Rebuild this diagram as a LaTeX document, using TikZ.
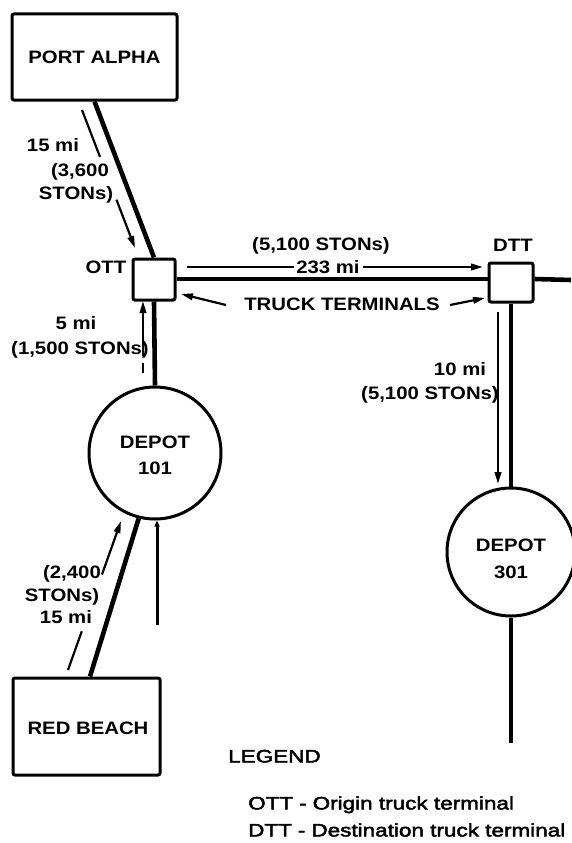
\documentclass[tikz,border=0pt]{standalone}
\usepackage{fontspec}
\setmainfont{Liberation Sans}[FakeStretch=1.13]
\newfontfamily\legfont{Liberation Sans}[FakeStretch=1.25, FakeBold=2.5]
\usetikzlibrary{arrows.meta,calc}
\begin{document}
\begin{tikzpicture}[x=1pt,y=-1pt,
  lab/.style={font=\fontsize{18}{20}\selectfont\bfseries, inner sep=0pt, text height=12.9pt, text depth=0pt},
  leg/.style={font=\fontsize{18}{20}\selectfont\legfont, inner sep=0pt, text height=12.9pt, text depth=0pt, anchor=west},
  box/.style={draw, line width=3pt, rounded corners=2pt, inner sep=0pt},
  depot/.style={draw, circle, line width=3pt, inner sep=0pt},
  road/.style={line width=4.6pt},
  flowline/.style={line width=2.2pt},
  flow/.style={line width=2.2pt, -{Triangle[length=12pt,width=6.5pt]}},
  ]
\useasboundingbox (0,0) rectangle (571,843);

% boxes and depots
\node[box, minimum width=165pt, minimum height=86pt] (port) at (94.5,57) {};
\node[lab] (portt) at (port.center) {PORT ALPHA};
\node[box, minimum width=42pt, minimum height=41pt] (ott) at (154,279.5) {};
\node[box, minimum width=44pt, minimum height=39pt] (dtt) at (511,282.5) {};
\node[depot, minimum size=132pt] (d101) at (155,453) {};
\node[depot, minimum size=128pt] (d301) at (511,552) {};
\node[box, minimum width=147pt, minimum height=97pt] (red) at (86.5,726.5) {};
\node[lab] (redt) at (88,728) {RED BEACH};

% roads
\coordinate (east) at (571,280);
\coordinate (d101s) at (157,625);
\coordinate (d301s) at (511,743);
\draw[road] (port.south) -- (ott.north);
\draw[road] (ott.east |- 0,279) -- (dtt.west |- 0,279);
\draw[road] (dtt.east |- 0,279) -- (east);
\draw[road] (ott.south) -- (d101.north);
\draw[road] (d101.-104) -- (red.north -| 90,0);
\draw[road] (dtt.south) -- (d301.north);
\draw[road] (d301.south) -- (d301s);
\draw[line width=3pt, -{Triangle[length=6pt,width=5pt]}] (d101s) -- (d101.south -| d101s);

% flow arrows
\coordinate (a1s) at (82,110);
\coordinate (a1e) at (135,248);
\draw[flowline] (a1s) -- ($(a1s)!0.34!(a1e)$);
\draw[flow] ($(a1s)!0.65!(a1e)$) -- (a1e);

\coordinate (a2s) at (187,267);
\coordinate (a2m) at (294,267);
\coordinate (a2n) at (363,267);
\coordinate (a2e) at (483,267);
\draw[flowline] (a2s) -- (a2m);
\draw[flow] (a2n) -- (a2e);

\coordinate (a3s) at (226,305);
\coordinate (a3e) at (181,294);
\draw[flow] (a3s) -- (a3e);
\coordinate (a4s) at (450,305);
\coordinate (a4e) at (485,298);
\draw[flow] (a4s) -- (a4e);

\coordinate (a5s) at (143,373);
\coordinate (a5m) at (143,363);
\coordinate (a5n) at (143,356);
\coordinate (a5e) at (143,301);
\draw[flowline] (a5s) -- (a5m);
\draw[flow] (a5n) -- (a5e);

\coordinate (a6s) at (498,312);
\coordinate (a6e) at (498,484);
\draw[flow] (a6s) -- (a6e);

\coordinate (a7s) at (68,670);
\coordinate (a7e) at (121,521);
\draw[flowline] (a7s) -- ($(a7s)!0.26!(a7e)$);
\draw[flow] ($(a7s)!0.64!(a7e)$) -- (a7e);

% labels
\node[lab] (ottl) at (106,267) {OTT};
\node[lab] (dttl) at (513,245) {DTT};
\node[lab] (l1a) at (53,145) {15 mi};
\node[lab] (l1b) at (80,170) {(3,600};
\node[lab] (l1c) at (76,193) {STONs)};
\node[lab] (l2a) at (321,244) {(5,100 STONs)};
\node[lab] (l2b) at (328,267) {233 mi};
\node[lab] (l3) at (342,304) {TRUCK TERMINALS};
\node[lab] (l4a) at (76,323) {5 mi};
\node[lab] (l4b) at (80,348) {(1,500 STONs)};
\node[lab] (d101a) at (155,442) {DEPOT};
\node[lab] (d101b) at (155,468) {101};
\node[lab] (l5a) at (460,369) {10 mi};
\node[lab] (l5b) at (430,393) {(5,100 STONs)};
\node[lab] (d301a) at (511,545) {DEPOT};
\node[lab] (d301b) at (511,572) {301};
\node[lab] (l6a) at (72,572) {(2,400};
\node[lab] (l6b) at (62,595) {STONs)};
\node[lab] (l6c) at (66,617) {15 mi};
\node[leg] (legh) at (228,756) {LEGEND};
\node[leg] (leg1) at (248,803) {OTT\,\,-\,\,Origin truck terminal};
\node[leg] (leg2) at (248,830) {DTT\,\,-\,\,Destination truck terminal};
\end{tikzpicture}
\end{document}
